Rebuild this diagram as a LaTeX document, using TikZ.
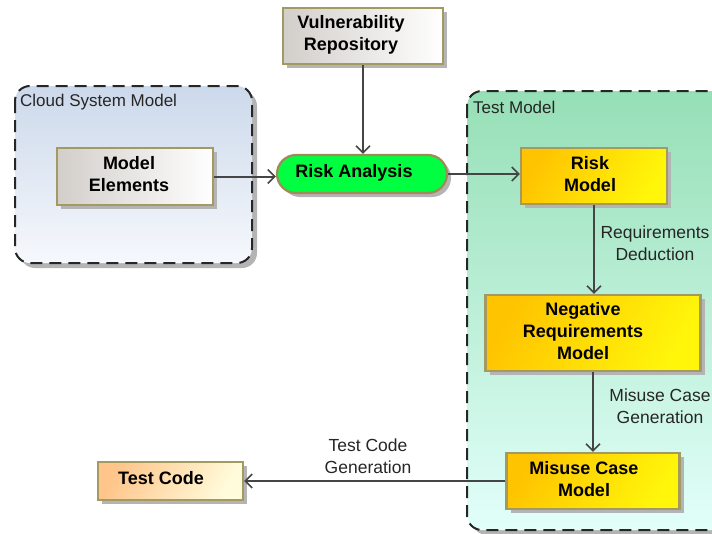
\documentclass[tikz,border=0pt]{standalone}
\usepackage{fontspec}
\setmainfont{Liberation Sans}
\usetikzlibrary{arrows.meta}
\definecolor{olivebd}{HTML}{A39A62}
\definecolor{greenbd}{HTML}{A08A58}
\definecolor{arr}{HTML}{454545}
\definecolor{shad}{HTML}{B4B4B4}
\definecolor{HTML1}{HTML}{FFC400}
\definecolor{HTML2}{HTML}{FFF60A}
\definecolor{HTML3}{HTML}{FFC58A}
\definecolor{HTML4}{HTML}{FFFCDC}
\definecolor{grayA}{HTML}{D2CECA}
\definecolor{cloudA}{HTML}{CCD9EB}
\definecolor{cloudB}{HTML}{F6F8FC}
\definecolor{testA}{HTML}{96DFB6}
\definecolor{testB}{HTML}{E2FFFA}
\definecolor{ragreen}{HTML}{00FF40}
\tikzset{
  x=1pt,y=-1pt,
  shadowed/.style={preaction={fill=shad,transform canvas={xshift=4pt,yshift=-4pt}}},
  boxbase/.style={rectangle,draw=olivebd,line width=2.2pt,inner sep=0pt,shadowed},
  graybox/.style={boxbase,left color=grayA,right color=white},
  yellowbox/.style={boxbase,top color=HTML1,bottom color=HTML2,shading angle=60},
  codebox/.style={boxbase,top color=HTML3,bottom color=HTML4,shading angle=60},
  btxt/.style={font=\fontsize{18}{22}\selectfont\bfseries,align=center,inner sep=0pt},
  ltxt/.style={font=\fontsize{17.5}{22}\selectfont,align=center,inner sep=0pt,text=black!85},
  container/.style={draw=black!85,line width=2pt,dash pattern=on 12pt off 7pt,rounded corners=15pt,
     shading angle=45,preaction={fill=shad,transform canvas={xshift=5pt,yshift=-5pt}}},
  conn/.style={draw=arr,line width=2pt,-{Straight Barb[length=7pt,width=14pt,line width=1.6pt]}},
}
\begin{document}
\begin{tikzpicture}
\useasboundingbox (0,0) rectangle (712,533);
% containers
\path[container,top color=cloudA,bottom color=cloudB] (15,86) rectangle (252,263);
\node[anchor=west,font=\fontsize{17}{20}\selectfont,inner sep=0pt,text=black!85] (cloudlbl) at (20,102) {Cloud System Model};
\path[container,top color=testA,bottom color=testB] (467,91) rectangle (745,530);
\node[anchor=west,font=\fontsize{17}{20}\selectfont,inner sep=0pt,text=black!85] (testlbl) at (473,107) {Test Model};
% boxes
\node[graybox,minimum width=156,minimum height=57] (me) at (135,176.5) {};
\node[btxt] (meT) at (129,174) {Model\\Elements};
\node[graybox,minimum width=160,minimum height=56] (vr) at (363,36) {};
\node[btxt] (vrT) at (351,34.5) {Vulnerability\\Repository};
\node[rectangle,rounded corners=19pt,draw=greenbd,line width=2.2pt,fill=ragreen,shadowed,minimum width=170,minimum height=38,inner sep=0pt] (ra) at (362,174) {};
\node[btxt] (raT) at (354,173) {Risk Analysis};
\node[yellowbox,minimum width=146,minimum height=56] (rm) at (594,176) {};
\node[btxt] (rmT) at (590,174) {Risk\\Model};
\node[yellowbox,minimum width=215,minimum height=76] (nrm) at (593,333) {};
\node[btxt] (nrmT) at (583,331.5) {Negative\\Requirements\\Model};
\node[yellowbox,minimum width=173,minimum height=56] (mcm) at (593,481) {};
\node[btxt] (mcmT) at (584,479) {Misuse Case\\Model};
\node[codebox,minimum width=145,minimum height=38] (tc) at (170.5,481) {};
\node[btxt] (tcT) at (161,478) {Test Code};
% connectors
\draw[conn] (me.east) -- (me.east -| ra.west);
\draw[conn] (vr.south) -- (vr.south |- ra.north);
\draw[conn] (ra.east) -- (ra.east -| rm.west);
\draw[conn] (rm.south) -- (rm.south |- nrm.north);
\draw[conn] (nrm.south) -- (nrm.south |- mcm.north);
\draw[conn] (mcm.west) -- (mcm.west -| tc.east);
% labels
\node[ltxt] (l1) at (655,243) {Requirements\\Deduction};
\node[ltxt] (l2) at (660,406) {Misuse Case\\Generation};
\node[ltxt] (l3) at (368,456) {Test Code\\Generation};
\end{tikzpicture}
\end{document}
